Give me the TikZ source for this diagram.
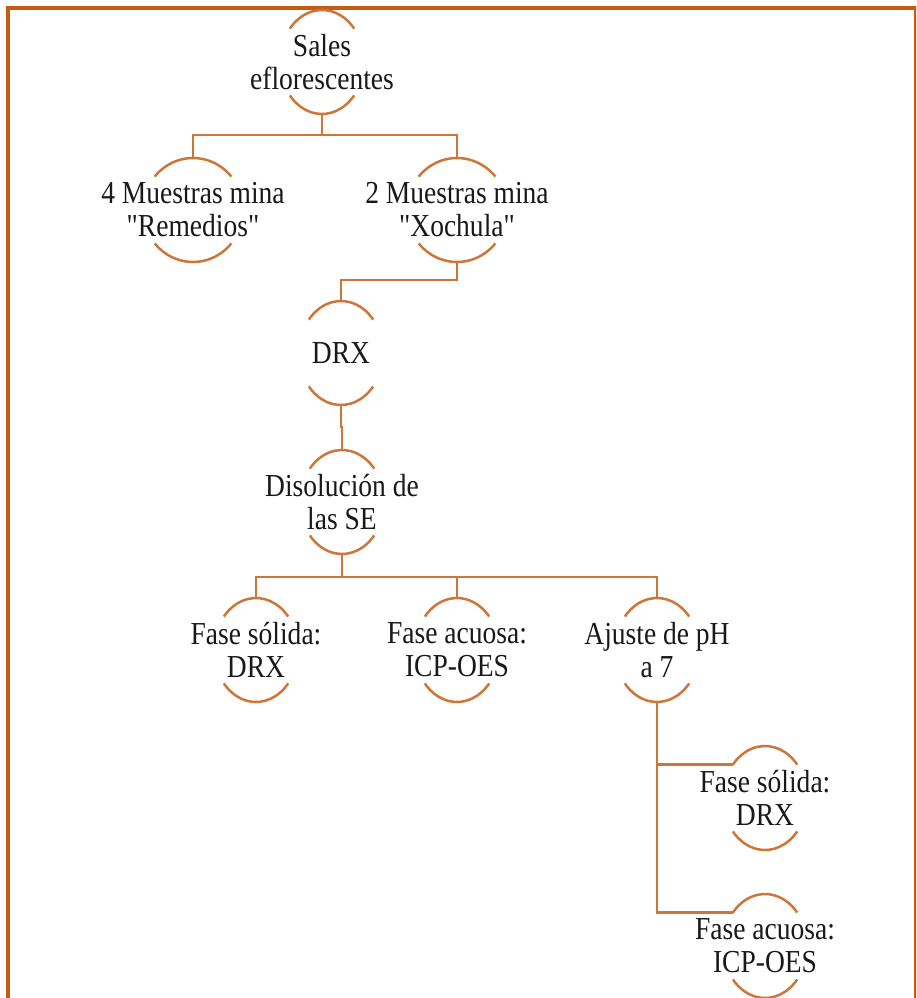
\documentclass[tikz,border=0pt]{standalone}
\usepackage{fontspec}
\newfontfamily\nf{Liberation Serif}[FakeStretch=0.86]
\usetikzlibrary{calc}
\definecolor{frameor}{RGB}{197,90,17}
\definecolor{lineor}{RGB}{206,118,58}
\tikzset{
  txt/.style={align=center, inner sep=0pt, minimum height=104pt, font=\nf\fontsize{32}{33}\selectfont, text=black!90},
  conn/.style={draw=lineor, line width=2.5pt},
  arcl/.style={draw=lineor, line width=2.5pt},
  frm/.style={draw=frameor, line width=4pt},
}
\newcommand\twoarcs[2]{%
  \draw[arcl] (#1.center) ++(40:#2pt and 52pt) arc[start angle=40, end angle=140, x radius=#2pt, y radius=52pt];
  \draw[arcl] (#1.center) ++(-40:#2pt and 52pt) arc[start angle=-40, end angle=-140, x radius=#2pt, y radius=52pt];
}
\begin{document}
\begin{tikzpicture}[x=1pt,y=-1pt]
\useasboundingbox (0,0) rectangle (916,998);
\clip (0,0) rectangle (916,998);
\fill[white] (0,0) rectangle (916,998);
\draw[frm] (8,8) rectangle (916,1020);

\node[txt] (sales) at (322,62) {Sales\\eflorescentes};
\node[txt] (rem) at (193,210) {4 Muestras mina\\"Remedios"};
\node[txt] (xoc) at (457,210) {2 Muestras mina\\"Xochula"};
\node[txt] (drx) at (341,353) {DRX};
\node[txt] (dis) at (342,502) {Disolución de\\las SE};
\node[txt] (fs) at (256,650) {Fase sólida:\\DRX};
\node[txt] (fa) at (457,650) {Fase acuosa:\\ICP-OES};
\node[txt] (aj) at (657,650) {Ajuste de pH\\a 7};
\node[txt] (fs2) at (765,798) {Fase sólida:\\DRX};
\node[txt] (fa2) at (765,946) {Fase acuosa:\\ICP-OES};

\twoarcs{sales}{42}
\twoarcs{rem}{50}
\twoarcs{xoc}{50}
\twoarcs{drx}{42}
\twoarcs{dis}{42}
\twoarcs{fs}{42}
\twoarcs{fa}{42}
\twoarcs{aj}{42}
\twoarcs{fs2}{42}
\twoarcs{fa2}{42}

\coordinate (b1) at (322,135);
\coordinate (b2) at (457,280);
\coordinate (b3) at (341,427);
\coordinate (b4) at (342,577);
\path (fs2.center) ++(140:42pt and 52pt) coordinate (fs2in);
\path (fa2.center) ++(140:42pt and 52pt) coordinate (fa2in);

\draw[conn] (sales.south) -- (b1);
\draw[conn] (b1) -| (rem.north);
\draw[conn] (b1) -| (xoc.north);
\draw[conn] (xoc.south) -- (b2) -| (drx.north);
\draw[conn] (drx.south) -- (b3) -| (dis.north);
\draw[conn] (dis.south) -- (b4);
\draw[conn] (b4) -| (fs.north);
\draw[conn] (b4) -| (fa.north);
\draw[conn] (b4) -| (aj.north);
\draw[conn] (aj.south) |- (fs2in);
\draw[conn] (aj.south) |- (fa2in);
\end{tikzpicture}
\end{document}
